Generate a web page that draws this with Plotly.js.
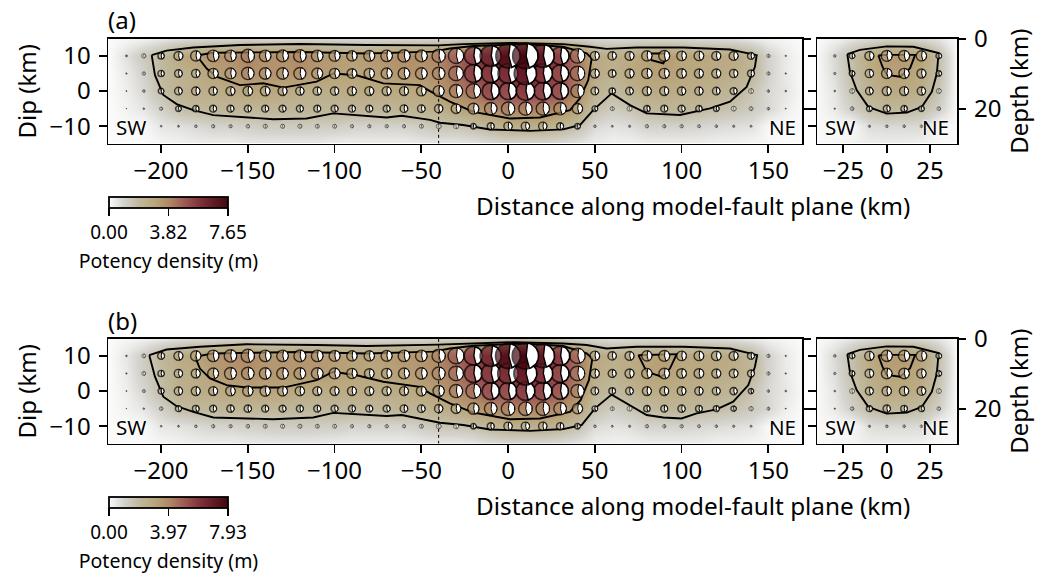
<!DOCTYPE html>
<html><head><meta charset="utf-8">
<script src="https://cdn.plot.ly/plotly-3.0.1.min.js"></script>
<style>html,body{margin:0;padding:0;background:#fff}</style></head>
<body><div id="chart" style="width:1037px;height:576px"></div>
<script>
// ---- grid of the model (km) ----
const alongKm=[-220,-210,-200,-190,-180,-170,-160,-150,-140,-130,-120,-110,-100,-90,-80,-70,-60,-50,-40,-30,-20,-10,0,10,20,30,40,50,60,70,80,90,100,110,120,130,140,150,160];
const downDipKm=[15,10,5,0,-5,-10,-15];
const acrossKm=[-30,-20,-10,0,10,20,30];
const xTicksMain=[-200,-150,-100,-50,0,50,100,150];
const xTicksSide=[-25,0,25];
const dipTicks=[-10,0,10];
const depthTicks=[0,20];
const cbarTicksA=[0,3.82,7.65];
const cbarTicksB=[0,3.97,7.93];
const faultMarkX=[-40,-40];
const faultMarkY=[-15,15];

// ---- potency density (m), main panel (a), one row per dip ----
const a15=[.1,.2,.4,.6,.7,.8,.8,.9,.8,.8, .8,.8,.8,.8,.8,.8,.8,.8,.8,.9, 1,1.1,1.2,1.2,1.2,1,.9,.8,.7,.8, .8,.8,.8,.7,.7,.6,.4,.2,.1];
const a10=[.6,1.3,1.9,2.7,3.1,3.5,3.5,4,3.5,3.6, 3.8,3.5,3.3,3.1,3.3,3.5,3.7,3.6,4,4.6, 5.4,6.3,7.3,7.65,6.9,5.4,4.4,2.7,2.5,2.7, 3.1,3.3,2.9,2.9,2.7,2.7,2.1,1,.4];
const a5=[.4,1,1.9,2.3,2.5,3.1,3.3,3.75,3.5,3.5, 3.6,3.3,3.1,2.9,3.1,3.3,3.5,3.5,3.75,4.4, 5.4,5.6,6,6.7,5.8,5.2,4.4,2.7,2.3,2.7, 3.1,3.1,2.9,2.7,2.7,2.5,2.1,1,.4];
const a0=[.3,.8,1.7,2.3,2.5,2.5,2.7,2.9,2.9,2.7, 2.5,2.5,2.5,2.7,2.7,2.7,2.7,2.9,3.3,4, 4.4,5.2,5.2,5.6,5.4,5,4,2.3,1.9,2.3, 2.7,2.7,2.5,2.5,2.3,2.1,1.5,.8,.5];
const aM5=[.2,.5,1,1.7,1.9,2.1,2.1,2.1,2.1,2.1, 2.1,2.1,2.1,2.1,2.1,2.1,2.3,2.3,2.5,2.9, 3.3,3.75,4,4,4,3.75,3.1,1.7,1.2,1.5, 1.9,2.1,2.1,1.9,1.7,1.5,1.2,.8,.3];
const aM10=[.05,.05,.5,.6,.8,1,1,1.1,1.25,1.25, 1.25,1.2,1.2,1,1,1,1,1.2,1.5,1.5, 1.7,2.1,2.5,2.5,2.5,2.1,1.7,.8,.6,.7, 1,1,1,.9,.8,.7,.6,.05,.05];
const aM15=[0,0,.1,.2,.3,.3,.3,.4,.4,.4, .4,.4,.3,.3,.3,.3,.3,.4,.4,.4, .5,.7,.8,.8,.8,.7,.5,.3,.2,.2, .3,.3,.3,.3,.2,.2,.1,.1,0];
// ---- main panel (b) ----
const b15=[.1,.2,.4,.6,.7,.8,.9,.9,.8,.8, .8,.8,.8,.8,.8,.8,.8,.8,.9,.9, 1,1.1,1.2,1.3,1.2,1.1,.9,.8,.7,.8, .8,.8,.8,.8,.7,.6,.4,.2,.1];
const b10=[.5,1.2,2.1,2.7,3.1,3.5,3.75,4,3.5,3.5, 3.6,3.5,3.3,3.1,3.1,3.3,3.5,3.5,4,4.8, 5.6,6.3,7.5,7.93,7.1,5.8,4.6,2.9,2.5,2.7, 3.1,3.3,2.9,2.9,2.9,2.7,2.1,1,.4];
const b5=[.4,1.2,1.9,2.5,2.7,3.3,3.6,3.75,3.5,3.5, 3.5,3.5,3.3,3.1,2.9,3.1,3.3,3.5,3.9,4.4, 5.4,5.8,6.2,6.9,6,5.4,4.4,2.7,2.4,2.7, 3.1,3.2,2.9,2.9,2.7,2.6,2.1,1,.4];
const b0=[.3,.9,1.8,2.5,2.7,2.7,2.9,3.1,3.1,3, 2.8,2.7,2.7,2.7,2.7,2.7,2.7,3,3.4,4, 4.5,5.2,5.3,5.7,5.5,5,4,2.3,2,2.3, 2.7,2.7,2.6,2.5,2.4,2.2,1.6,.8,.5];
const bM5=[.2,.5,1.1,1.8,2,2.1,2.2,2.2,2.1,2.1, 2.1,2.1,2.1,2.1,2.1,2.1,2.3,2.3,2.5,2.9, 3.4,3.8,4.1,4.1,4.1,3.8,3.1,1.7,1.2,1.5, 1.9,2.1,2.2,2,1.8,1.6,1.3,.9,.3];
const bM10=[.05,.05,.5,.6,.8,1,1,1.1,1.2,1.25, 1.25,1.2,1.2,1,1,1,1,1.2,1.5,1.5, 1.7,2.1,2.5,2.5,2.5,2.2,1.7,.8,.6,.7, 1,1,1,.9,.8,.7,.6,.05,.05];
const bM15=[0,0,.1,.2,.3,.3,.3,.4,.4,.4, .4,.4,.3,.3,.3,.3,.3,.4,.4,.4, .5,.7,.8,.8,.8,.7,.5,.3,.2,.2, .3,.3,.3,.3,.2,.2,.1,.1,0];
// ---- side panels (x -30..30) ----
const sa15=[.2,.5,.7,.9,.9,.7,.5];
const sa10=[.8,1.7,2.7,3.3,3.3,3.1,1.7];
const sa5=[.7,1.7,2.5,3.1,3.1,2.7,1.7];
const sa0=[.5,1.5,2.3,2.7,2.7,2.5,1.5];
const saM5=[.4,1.1,1.7,2.1,1.9,1.7,1.1];
const saM10=[.05,.05,.7,.8,.8,.8,.05];
const saM15=[.1,.2,.3,.3,.3,.2,.1];
const sb15=[.2,.5,.7,.9,.9,.7,.5];
const sb10=[.8,1.7,2.8,3.4,3.4,3.2,1.7];
const sb5=[.7,1.7,2.6,3.2,3.2,2.8,1.7];
const sb0=[.5,1.5,2.4,2.8,2.8,2.6,1.5];
const sbM5=[.4,1.1,1.8,2.2,2,1.8,1.1];
const sbM10=[.05,.05,.7,.8,.8,.8,.05];
const sbM15=[.1,.2,.3,.3,.3,.2,.1];

// ---- contour lines (km) ----
const aOutX=[-205.4,-196.8,-181.4,-154.5,-119.9,-81.5,-40.2,-25.8,3,31.8,47.2,56.8,74.1,101,127.9,143.3,142.3,137.5,127.9,116.4,99.1,79.9,70.3,59.7,49.1,41.4,31.8,12.6,-10.4,-25.8,-39.2,-45,-61.3,-70,-100.7,-116.1,-135.3,-169.9,-181.4,-191,-198.7,-203.5,-205.4];
const aOutY=[10.2,11.5,12.4,13.1,13.4,13.1,13,13.35,13.7,13.35,12.6,12,12.4,12.4,11.8,10.2,6.9,1.2,-3,-4.9,-6.8,-6.35,-4,-.66,-5.4,-9.65,-10.9,-11.3,-10.9,-9.65,-9,-8.2,-7,-7.5,-6.35,-7.8,-8,-6.85,-5.4,-3.7,-1.1,4.5,10.2];
const aInX=[-179.5,-169.9,-119.9,-81.5,-43.1,-33.5,-20,8.8,31.8,45.3,48.2,46.2,41.4,35.7,18.4,1.1,-20,-33.5,-45,-50.8,-71.9,-87.3,-100.7,-110.3,-129.5,-141.1,-154.5,-168,-173.7,-179.5];
const aInY=[10.1,10.9,11.1,10.7,11.2,12.1,12.8,13.35,12.6,10.7,9.3,3.1,-2.1,-5.4,-7.5,-7.8,-5.9,-3,0,1.7,2.2,4.5,5,2.7,1,2.2,1.7,4.1,6.4,10.1];
const aPatchX=[81.8,92.4,89.5,82.7,81.8];
const aPatchY=[10.7,10.7,7.9,8.8,10.7];
const bOutX=[-206.8,-196.8,-177.6,-150.7,-110.3,-81.5,-40.2,-25.8,3,31.8,45.3,56.8,74.1,101,127.9,143.6,142.3,138.5,129.8,120.2,108.7,100,89.5,79.9,70.3,59.7,50.1,42.4,31.8,12.6,-10.4,-25.8,-39.2,-61.3,-70,-100.7,-112.3,-135.3,-169.9,-181.4,-191,-198.7,-203.5,-206.8];
const bOutY=[10.2,11.8,12.6,13.3,13.1,12.8,13.2,13.5,13.9,13.5,13.1,12.1,12.6,12.6,12.1,10.2,6.9,1.7,-3,-5.2,-6.35,-7.8,-7.5,-6.8,-4,-1,-4.9,-9.65,-10.8,-11.3,-10.9,-9.65,-9,-6.8,-7.1,-6.2,-7.5,-8,-7.5,-5.9,-4.3,-1.6,4.1,10.2];
const bInX=[-180.4,-169.9,-119.9,-81.5,-43.1,-33.5,-20,8.8,31.8,45.3,48.6,46.6,41.8,35.7,18.4,1.1,-20,-33.5,-45,-50.8,-71.9,-87.3,-100.7,-110.3,-129.5,-150.7,-162.2,-171.8,-177.6,-180.4];
const bInY=[9.75,10.7,11.1,10.7,11.2,12.1,12.9,13.5,12.8,10.7,9.3,3.1,-2.6,-5.9,-7.8,-8,-6.1,-3.5,-.66,1.2,2.65,4.5,5.5,3.1,1,1,1.7,3.6,6.4,9.75];
const bPatchX=[75.1,97.2,93.3,88.5,79.9,75.1];
const bPatchY=[10.2,10.5,6.4,4.1,5.5,10.2];
const sOutX=[-22.7,-15.4,0,15.4,29.9,28.9,26,20.2,11.6,0,-10.6,-17.3,-21.2,-22.7];
const sOutY=[10.5,11.7,12.7,12.6,10.8,5,-.2,-4.5,-6.1,-6.4,-4.5,.3,5.5,10.5];
const sInX=[-4.8,0,16.4,13.5,7.7,0,-2.5,-4.8];
const sInY=[10.1,10.3,10.3,6.5,4.1,4.6,7,10.1];

const colorStops=[[0,'#fbfbfb'],[.12,'#d5d4cf'],[.25,'#c0b99e'],[.38,'#b9a67c'],[.5,'#b08a66'],[.62,'#a05f58'],[.75,'#85353c'],[.88,'#621a24'],[1,'#430810']];

// ---- layout in pixels ----
const W=1037,H=576;
const mainPx=[108.3,802.3], sidePx=[817.3,957.3], rowPx=[[39,143.5],[339,443.5]];
const xRangeMain=[-230.4,169.6], xRangeSide=[-40,40.7], yRange=[-14.9,14.8], depthRange=[30,0];
const pxPerKmMain=(mainPx[1]-mainPx[0])/(xRangeMain[1]-xRangeMain[0]);
const pxPerKmSide=(sidePx[1]-sidePx[0])/(xRangeSide[1]-xRangeSide[0]);
const pxPerKmY=(rowPx[0][1]-rowPx[0][0])/(yRange[1]-yRange[0]);
const RADIUS_PX_PER_M=1.65;
const FONT='"Noto Sans", sans-serif';
const TICK=24, LABEL=24, FRAME=1.8;

const traces=[];
function pad(r,e){return [e].concat(r,[e]);}
function ballPath(cx,cy,v,kx){
  const r=v*RADIUS_PX_PER_M, X=[],Y=[];
  for(let d=-80;d<=72;d+=8){const t=d*Math.PI/180;X.push(cx+r*Math.cos(t)/kx);Y.push(cy-r*Math.sin(t)/pxPerKmY);}
  X.push(cx+0.06*r/kx);Y.push(cy);
  X.push(X[0]);Y.push(Y[0]);
  return [X,Y];
}
function addBalls(xs,ys,rows,kx,xa,ya,cax){
  const items=[];
  rows.forEach((row,j)=>row.forEach((v,i)=>{if(ys[j]<15&&ys[j]>-15&&v>=.1)items.push({x:xs[i],y:ys[j],v});}));
  items.sort((p,q)=>p.v-q.v);
  const groups=[[items.filter(o=>o.v*RADIUS_PX_PER_M<2.6),.6,.5],[items.filter(o=>{const r=o.v*RADIUS_PX_PER_M;return r>=2.6&&r<8.2;}),1.4,1]];
  groups.forEach(([g,lw,nl])=>{
    traces.push({type:'scatter',mode:'markers',xaxis:xa,yaxis:ya,x:g.map(o=>o.x),y:g.map(o=>o.y),hoverinfo:'skip',showlegend:false,
      marker:{symbol:'circle',size:g.map(o=>2*o.v*RADIUS_PX_PER_M),color:g.map(o=>o.v),coloraxis:cax,line:{color:'#000',width:lw}}});
    const PX=[],PY=[];
    g.forEach(o=>{const [a,b]=ballPath(o.x,o.y,o.v,kx);PX.push(...a,null);PY.push(...b,null);});
    traces.push({type:'scatter',mode:'lines',xaxis:xa,yaxis:ya,x:PX,y:PY,fill:'toself',fillcolor:'#fff',hoverinfo:'skip',showlegend:false,line:{color:'#000',width:nl}});
  });
  items.filter(o=>o.v*RADIUS_PX_PER_M>=8.2).forEach(o=>{
    traces.push({type:'scatter',mode:'markers',xaxis:xa,yaxis:ya,x:[o.x],y:[o.y],hoverinfo:'skip',showlegend:false,
      marker:{symbol:'circle',size:[2*o.v*RADIUS_PX_PER_M],color:[o.v],coloraxis:cax,line:{color:'#000',width:1.8}}});
    const [a,b]=ballPath(o.x,o.y,o.v,kx);
    traces.push({type:'scatter',mode:'lines',xaxis:xa,yaxis:ya,x:a,y:b,fill:'toself',fillcolor:'#fff',hoverinfo:'skip',showlegend:false,line:{color:'#000',width:1.4}});
  });
}
function addLine(x,y,xa,ya,w){
  traces.push({type:'scatter',mode:'lines',xaxis:xa,yaxis:ya,x,y,hoverinfo:'skip',showlegend:false,line:{color:'#000',width:w||1.9}});
}
function addPanel(rowsMain,rowsSide,lines,idx,cax){
  const xm=idx===0?'x':'x3', ym=idx===0?'y':'y5', ydm=idx===0?'y2':'y6';
  const xs=idx===0?'x2':'x4', ys=idx===0?'y3':'y7', yds=idx===0?'y4':'y8';
  const gridX=[-230].concat(alongKm,[170]);
  const gridS=[-40].concat(acrossKm,[40]);
  traces.push({type:'heatmap',xaxis:xm,yaxis:ym,x:gridX,y:downDipKm,z:rowsMain.map(r=>pad(r,0)),zsmooth:'best',coloraxis:cax,hoverinfo:'skip'});
  traces.push({type:'heatmap',xaxis:xs,yaxis:ys,x:gridS,y:downDipKm,z:rowsSide.map(r=>pad(r,.05)),zsmooth:'best',coloraxis:cax,hoverinfo:'skip'});
  lines.main.forEach(l=>addLine(l[0],l[1],xm,ym));
  lines.side.forEach(l=>addLine(l[0],l[1],xs,ys));
  addLine(faultMarkX,faultMarkY,xm,ym,1);
  traces[traces.length-1].line.dash='3px,3px';
  addBalls(alongKm,downDipKm,rowsMain,pxPerKmMain,xm,ym,cax);
  addBalls(acrossKm,downDipKm,rowsSide,pxPerKmSide,xs,ys,cax);
  traces.push({type:'scatter',mode:'markers',xaxis:xm,yaxis:ydm,x:[0,0],y:depthTicks,opacity:0,hoverinfo:'skip',showlegend:false});
  traces.push({type:'scatter',mode:'markers',xaxis:xs,yaxis:yds,x:[0,0],y:depthTicks,opacity:0,hoverinfo:'skip',showlegend:false});
}
addPanel([a15,a10,a5,a0,aM5,aM10,aM15],[sa15,sa10,sa5,sa0,saM5,saM10,saM15],{main:[[aOutX,aOutY],[aInX,aInY],[aPatchX,aPatchY]],side:[[sOutX,sOutY],[sInX,sInY]]},0,'coloraxis');
addPanel([b15,b10,b5,b0,bM5,bM10,bM15],[sb15,sb10,sb5,sb0,sbM5,sbM10,sbM15],{main:[[bOutX,bOutY],[bInX,bInY],[bPatchX,bPatchY]],side:[[sOutX,sOutY],[sInX,sInY]]},1,'coloraxis2');

const dx=p=>[p[0]/W,p[1]/W];
const dy=p=>[(H-p[1])/H,(H-p[0])/H];
function xAxis(dom,range,ticks,anchor){return {domain:dx(dom),range,anchor,tickmode:'array',tickvals:ticks,ticks:'outside',ticklen:8,tickwidth:FRAME,tickcolor:'#000',ticklabelstandoff:-3,showline:true,mirror:true,linewidth:FRAME,linecolor:'#000',zeroline:false,showgrid:false,tickfont:{family:FONT,size:TICK,color:'#000'},fixedrange:true};}
function yAxis(row,anchor,labelled,extra){return Object.assign({domain:dy(row),range:yRange,anchor,tickmode:'array',tickvals:dipTicks,ticks:'outside',ticklen:8,tickwidth:FRAME,tickcolor:'#000',ticklabelstandoff:3,showline:true,mirror:true,linewidth:FRAME,linecolor:'#000',zeroline:false,showgrid:false,showticklabels:labelled,tickfont:{family:FONT,size:TICK,color:'#000'},fixedrange:true},extra||{});}
function depthAxis(row,anchor,over,labelled,extra){return Object.assign({domain:dy(row),range:depthRange,anchor,overlaying:over,side:'right',tickmode:'array',tickvals:depthTicks,ticks:'outside',ticklen:8,tickwidth:FRAME,tickcolor:'#000',ticklabelstandoff:3,showline:false,zeroline:false,showgrid:false,showticklabels:labelled,tickfont:{family:FONT,size:TICK,color:'#000'},fixedrange:true},extra||{});}
const dipTitle={title:{text:'Dip (km)',font:{family:FONT,size:LABEL,color:'#000'},standoff:6}};
const depthTitle={title:{text:'Depth (km)',font:{family:FONT,size:LABEL,color:'#000'},standoff:8}};
const sideLeftTicks=dipTicks.concat([-5]);

function cbar(ticks,topPx){return {orientation:'h',thicknessmode:'pixels',thickness:10.5,lenmode:'pixels',len:118.7,x:109/W,xanchor:'left',y:(H-topPx)/H,yanchor:'top',xpad:0,ypad:0,outlinewidth:1.8,outlinecolor:'#000',tickmode:'array',tickvals:ticks,tickformat:'.2f',ticks:'outside',ticklen:8,tickwidth:1.8,tickcolor:'#000',tickfont:{family:FONT,size:19,color:'#000'},title:{text:'Potency density (m)',side:'bottom',font:{family:FONT,size:19.5,color:'#000'}}};}

function ann(text,xp,yp,size,xanchor){return {text,xref:'paper',yref:'paper',x:xp/W,y:(H-yp)/H,xanchor:xanchor||'left',yanchor:'middle',showarrow:false,xshift:0,font:{family:FONT,size:size,color:'#000'}};}
function lab(text,xp,yp){const a=ann(text,xp,yp,20.5,'left');a.font.shadow='0 0 2px #fff, 0 0 2px #fff, 0 0 3px #fff';return a;}

const layout={width:W,height:H,margin:{l:0,r:0,t:0,b:0},paper_bgcolor:'#fff',plot_bgcolor:'#fff',showlegend:false,font:{family:FONT,color:'#000'},
 coloraxis:{cmin:0,cmax:7.65,colorscale:colorStops,colorbar:cbar(cbarTicksA,197)},
 coloraxis2:{cmin:0,cmax:7.93,colorscale:colorStops,colorbar:cbar(cbarTicksB,497)},
 xaxis:xAxis(mainPx,xRangeMain,xTicksMain,'y'),
 xaxis2:xAxis(sidePx,xRangeSide,xTicksSide,'y3'),
 xaxis3:xAxis(mainPx,xRangeMain,xTicksMain,'y5'),
 xaxis4:xAxis(sidePx,xRangeSide,xTicksSide,'y7'),
 yaxis:yAxis(rowPx[0],'x',true,dipTitle),
 yaxis2:depthAxis(rowPx[0],'x','y',false),
 yaxis3:yAxis(rowPx[0],'x2',false,{tickvals:sideLeftTicks}),
 yaxis4:depthAxis(rowPx[0],'x2','y3',true,depthTitle),
 yaxis5:yAxis(rowPx[1],'x3',true,dipTitle),
 yaxis6:depthAxis(rowPx[1],'x3','y5',false),
 yaxis7:yAxis(rowPx[1],'x4',false,{tickvals:sideLeftTicks}),
 yaxis8:depthAxis(rowPx[1],'x4','y7',true,depthTitle),
 annotations:[
  ann('(a)',106,20,LABEL),ann('(b)',106,320,LABEL),
  ann('Distance along model-fault plane (km)',693,205,24.3,'center'),
  ann('Distance along model-fault plane (km)',693,505,24.3,'center'),
  lab('SW',114,127),lab('NE',767,127),lab('SW',823,127),lab('NE',920,127),
  lab('SW',114,427),lab('NE',767,427),lab('SW',823,427),lab('NE',920,427)
 ]};
Plotly.newPlot('chart',traces,layout,{displayModeBar:false,staticPlot:true});
</script></body></html>
